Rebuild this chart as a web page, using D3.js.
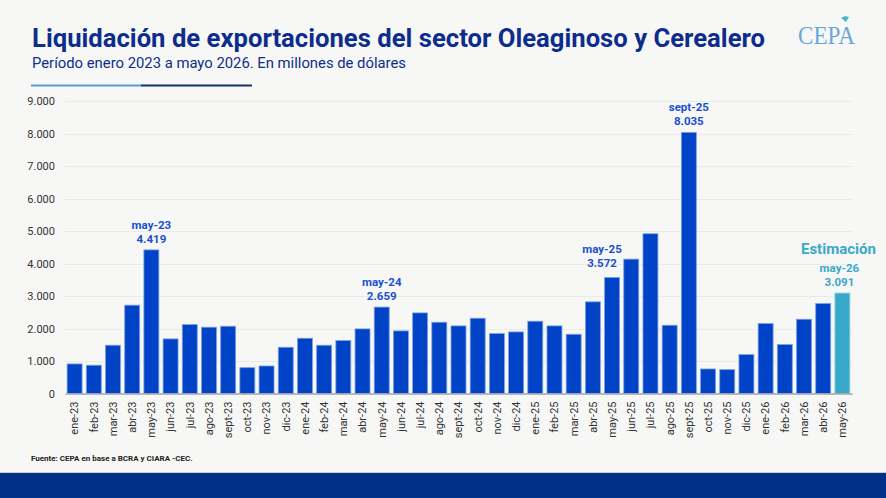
<!DOCTYPE html>
<html>
<head>
<meta charset="utf-8">
<script src="https://cdn.jsdelivr.net/npm/d3@7"></script>
<style>
  body { margin: 0; background: #f7f8f6; }
  svg { display: block; font-family: Roboto, "Liberation Sans", sans-serif; }
</style>
</head>
<body>
<div id="app"></div>
<script>
// meses y valores (millones de USD)
const months = ["ene-23","feb-23","mar-23","abr-23","may-23","jun-23","jul-23","ago-23","sept-23","oct-23","nov-23","dic-23",
  "ene-24","feb-24","mar-24","abr-24","may-24","jun-24","jul-24","ago-24","sept-24","oct-24","nov-24","dic-24",
  "ene-25","feb-25","mar-25","abr-25","may-25","jun-25","jul-25","ago-25","sept-25","oct-25","nov-25","dic-25",
  "ene-26","feb-26","mar-26","abr-26","may-26"];
const values = [910, 870, 1485, 2718, 4419, 1680, 2120, 2040, 2070, 795, 847, 1423,
  1700, 1485, 1628, 1988, 2659, 1926, 2480, 2193, 2080, 2316, 1844, 1895,
  2224, 2080, 1823, 2820, 3572, 4135, 4915, 2100, 8035, 755, 735, 1197,
  2152, 1505, 2285, 2769, 3091];
const highlighted = ["may-23", "may-24", "may-25", "sept-25", "may-26"];
const estimated = ["may-26"];
const yTicks = [0, 1000, 2000, 3000, 4000, 5000, 6000, 7000, 8000, 9000];

const width = 886;
const height = 498;
const marginLeft = 65;
const marginRight = 34;
const marginTop = 101;
const baseline = 393.5;

const data = months.map((m, i) => ({ month: m, value: values[i] }));
const fmt = d3.formatLocale({ decimal: ",", thousands: ".", grouping: [3], currency: ["$", ""] }).format(",");

const svg = d3.select("#app")
  .append("svg")
  .attr("width", width)
  .attr("height", height)
  .attr("viewBox", [0, 0, width, height]);

svg.append("rect").attr("width", width).attr("height", height).attr("fill", "#f7f8f6");

// escalas
const x = d3.scaleBand()
  .domain(months)
  .range([marginLeft, width - marginRight])
  .paddingInner(0.22)
  .paddingOuter(0.11);

const y = d3.scaleLinear()
  .domain([0, 9000])
  .range([baseline, marginTop]);

// títulos
svg.append("text")
  .attr("x", 32).attr("y", 47)
  .attr("fill", "#0d2d8c")
  .attr("font-size", 25)
  .attr("font-weight", 700)
  .attr("textLength", 733)
  .attr("lengthAdjust", "spacingAndGlyphs")
  .text("Liquidación de exportaciones del sector Oleaginoso y Cerealero");

svg.append("text")
  .attr("x", 32).attr("y", 68)
  .attr("fill", "#0d2d8c")
  .attr("font-size", 15.5)
  .attr("textLength", 374)
  .attr("lengthAdjust", "spacingAndGlyphs")
  .text("Período enero 2023 a mayo 2026. En millones de dólares");

svg.append("line").attr("x1", 31).attr("x2", 141).attr("y1", 85.5).attr("y2", 85.5)
  .attr("stroke", "#5b9bd5").attr("stroke-width", 2);
svg.append("line").attr("x1", 141).attr("x2", 252).attr("y1", 85.5).attr("y2", 85.5)
  .attr("stroke", "#1b2f6e").attr("stroke-width", 2);

// logo
svg.append("text")
  .attr("x", 798).attr("y", 44)
  .attr("fill", "#6aa6dc")
  .attr("font-family", "Liberation Serif, serif")
  .attr("font-size", 26)
  .attr("textLength", 57)
  .attr("lengthAdjust", "spacingAndGlyphs")
  .text("CEPA");
svg.append("path")
  .attr("d", "M841,18 l4,-2 l4,1 l-3,5 z")
  .attr("fill", "#4fb7c9");

// grilla
svg.append("g")
  .attr("stroke", "#e8ebe8")
  .attr("stroke-width", 1)
  .selectAll("line")
  .data(yTicks.slice(1))
  .join("line")
    .attr("x1", marginLeft)
    .attr("x2", width - marginRight)
    .attr("y1", d => Math.round(y(d)) + 0.5)
    .attr("y2", d => Math.round(y(d)) + 0.5);

// eje y
svg.append("g")
  .attr("transform", `translate(${marginLeft},0)`)
  .call(d3.axisLeft(y).tickValues(yTicks).tickFormat(fmt).tickSize(0).tickPadding(10))
  .call(g => g.select(".domain").remove())
  .call(g => g.selectAll("text")
    .attr("font-family", "Roboto, sans-serif")
    .attr("font-size", 11)
    .attr("fill", "#333"));

// barras
svg.append("g")
  .selectAll("rect")
  .data(data)
  .join("rect")
    .attr("x", d => x(d.month))
    .attr("y", d => y(d.value))
    .attr("width", x.bandwidth())
    .attr("height", d => y(0) - y(d.value))
    .attr("fill", d => estimated.includes(d.month) ? "#39a9c9" : "#0043c7")
    .attr("stroke", d => estimated.includes(d.month) ? "#8fd0e0" : "#7d9fe6")
    .attr("stroke-width", 0.8);

// eje x
svg.append("g")
  .attr("transform", `translate(0,${baseline})`)
  .call(d3.axisBottom(x).tickSize(0).tickPadding(8))
  .call(g => g.select(".domain").attr("stroke", "#a0a4a8").attr("stroke-width", 1.5))
  .call(g => g.selectAll("text")
    .attr("font-family", "Roboto, sans-serif")
    .attr("font-size", 11)
    .attr("fill", "#333")
    .attr("text-anchor", "end")
    .attr("transform", "rotate(-90)")
    .attr("x", -8)
    .attr("y", 0)
    .attr("dy", "0.35em"));

// etiquetas destacadas (may-25 se corre a la izquierda para no tapar jun-25)
const shift = m => m === "may-25" ? -10 : (m === "may-26" ? -3 : 0);
const lift = m => m === "may-25" ? 3 : 0;

const labels = svg.append("g")
  .attr("font-family", "Roboto, sans-serif")
  .attr("font-weight", 700)
  .attr("font-size", 11.5)
  .attr("text-anchor", "middle")
  .selectAll("g")
  .data(data.filter(d => highlighted.includes(d.month)))
  .join("g")
    .attr("fill", d => estimated.includes(d.month) ? "#3aa8c8" : "#1a4fd0");

labels.append("text")
  .attr("x", d => x(d.month) + x.bandwidth() / 2 + shift(d.month))
  .attr("y", d => y(d.value) - 21 - lift(d.month))
  .text(d => d.month);
labels.append("text")
  .attr("x", d => x(d.month) + x.bandwidth() / 2 + shift(d.month))
  .attr("y", d => y(d.value) - 7 - lift(d.month))
  .text(d => fmt(d.value));

svg.append("text")
  .attr("x", x("may-26") + x.bandwidth() / 2 - 4)
  .attr("y", 254)
  .attr("text-anchor", "middle")
  .attr("font-weight", 700)
  .attr("font-size", 15)
  .attr("fill", "#3aa8c8")
  .text("Estimación");

// fuente y pie
svg.append("text")
  .attr("x", 31).attr("y", 461)
  .attr("font-size", 8)
  .attr("font-weight", 700)
  .attr("fill", "#222")
  .text("Fuente: CEPA en base a BCRA y CIARA -CEC.");

svg.append("line").attr("x1", 0).attr("x2", width).attr("y1", 472.5).attr("y2", 472.5)
  .attr("stroke", "#c8ccd0").attr("stroke-width", 1);
svg.append("rect").attr("x", 0).attr("y", 473).attr("width", width).attr("height", height - 473)
  .attr("fill", "#003087");
</script>
</body>
</html>
